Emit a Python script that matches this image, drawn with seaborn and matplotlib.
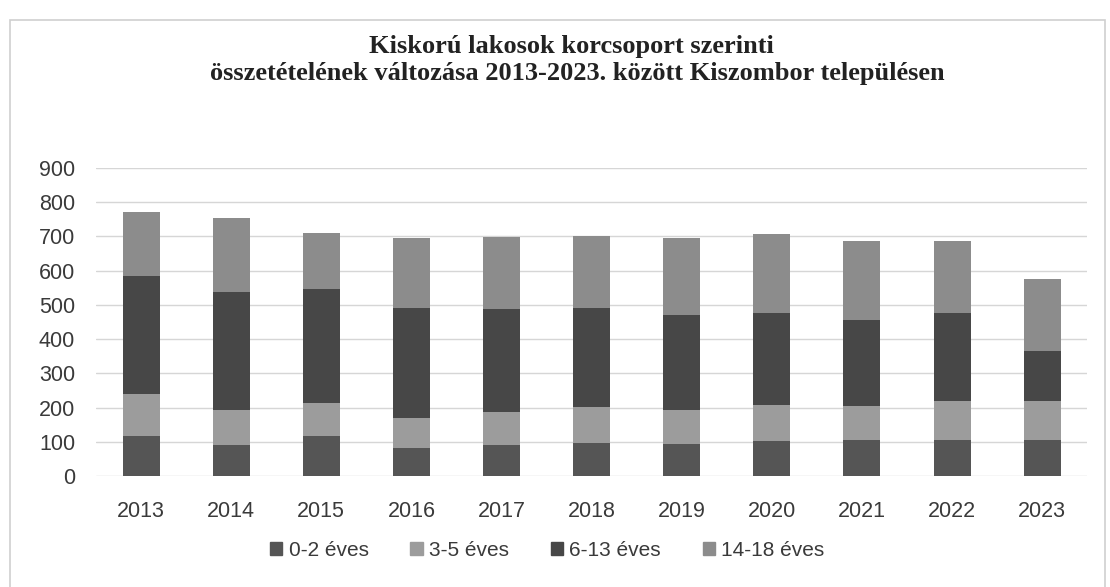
import matplotlib
matplotlib.use("Agg")
import matplotlib.pyplot as plt
import matplotlib.patches as mpatches
import seaborn as sns
import pandas as pd
import numpy as np

years = ["2013", "2014", "2015", "2016", "2017", "2018", "2019", "2020", "2021", "2022", "2023"]
age_0_2 = [117, 91, 117, 83, 92, 98, 93, 103, 105, 106, 106]
age_3_5 = [124, 101, 97, 87, 94, 104, 99, 105, 101, 114, 112]
age_6_13 = [344, 346, 333, 321, 301, 290, 279, 268, 249, 255, 146]
age_14_18 = [185, 215, 163, 204, 210, 208, 224, 231, 232, 212, 212]
series_names = ["0-2 éves", "3-5 éves", "6-13 éves", "14-18 éves"]
colors = ["#555555", "#9c9c9c", "#474747", "#8c8c8c"]
yticks = [0, 100, 200, 300, 400, 500, 600, 700, 800, 900]

sns.set_theme(style="white")
plt.rcParams["font.family"] = ["Liberation Sans", "DejaVu Sans"]

df = pd.DataFrame({"year": years, series_names[0]: age_0_2, series_names[1]: age_3_5,
                   series_names[2]: age_6_13, series_names[3]: age_14_18})
cum = df[series_names].cumsum(axis=1)

fig = plt.figure(figsize=(11.1, 5.87), dpi=100)
fig.patch.set_facecolor("white")
ax = fig.add_axes([0.0865, 0.189, 0.893, 0.525])

# draw cumulative layers from top to bottom
for name, col in reversed(list(zip(series_names, colors))):
    sns.barplot(x=df["year"], y=cum[name], color=col, width=0.41, ax=ax,
                saturation=1, edgecolor="none", zorder=3)

ax.set_ylim(0, 900)
ax.set_yticks(yticks)
ax.set_xlim(-0.5, len(years) - 0.5)
ax.grid(axis="y", color="#d6d6d6", linewidth=1, zorder=0)
ax.set_axisbelow(True)
for s in ax.spines.values():
    s.set_visible(False)
ax.set_xlabel("")
ax.set_ylabel("")
ax.tick_params(axis="both", length=0, labelsize=15.5, labelcolor="#3a3a3a")
ax.tick_params(axis="x", pad=18)
ax.tick_params(axis="y", pad=15)

handles = [mpatches.Patch(color=c, label=n) for n, c in zip(series_names, colors)]
fig.legend(handles=handles, loc="center", bbox_to_anchor=(0.493, 0.063), ncol=4,
           frameon=False, fontsize=15, handlelength=0.6, handleheight=0.6,
           handletextpad=0.3, columnspacing=2.0, labelcolor="#3a3a3a")

fig.text(0.515, 0.92, "Kiskorú lakosok korcsoport szerinti", ha="center", va="center",
         fontsize=19, fontweight="bold", family=["Liberation Serif", "DejaVu Serif"], color="#222222")
fig.text(0.52, 0.874, "összetételének változása 2013-2023. között Kiszombor településen", ha="center",
         va="center", fontsize=19, fontweight="bold", family=["Liberation Serif", "DejaVu Serif"],
         color="#222222")

frame = mpatches.Rectangle((10 / 1110, -0.02), 1095 / 1110, 1 - 20 / 587 + 0.02,
                           transform=fig.transFigure, fill=False, edgecolor="#cfcfcf", linewidth=1.2)
fig.patches.append(frame)

fig.savefig("out.png", dpi=100, facecolor="white")
